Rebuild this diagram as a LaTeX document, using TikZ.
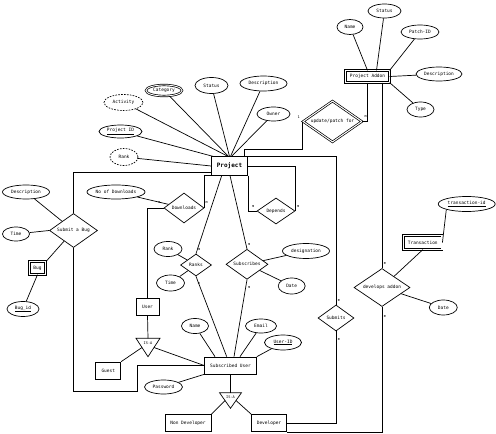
\documentclass[tikz,border=0pt]{standalone}
\usepackage{fontspec}
\setmainfont{DejaVu Sans Mono}
\usetikzlibrary{shapes.geometric,calc}
\tikzset{
  txt/.style={font=\fontsize{4.5}{5}\selectfont},
  sz/.style 2 args={minimum width=#1pt, minimum height=#2pt},
  ent/.style={draw, rectangle, inner sep=0pt, txt},
  weak/.style={ent, double, double distance=1.3pt},
  attr/.style={draw, ellipse, inner sep=0pt, txt},
  dashattr/.style={attr, dash pattern=on 1.6pt off 1.3pt},
  rel/.style={draw, diamond, inner sep=0pt, shape aspect=1.4, txt},
  card/.style={inner sep=0pt, font=\fontsize{3.6}{4}\selectfont},
  isalbl/.style={inner sep=0pt, font=\fontsize{3.6}{4}\selectfont},
}
\begin{document}
\begin{tikzpicture}[x=1pt, y=-1pt, line width=0.7pt]
\useasboundingbox (0,0) rectangle (496,434);

% ---------- Project and its attributes ----------
\node[ent, font=\fontsize{6}{7}\selectfont\bfseries, sz={36}{18.5}] (P) at (229.5,166) {Project};
\node[attr, double, double distance=0.9pt, sz={36}{11}] (cat) at (164,90.5) {Category};
\node[dashattr, sz={39}{16}] (act) at (123.5,102.5) {Activity};
\node[attr, sz={33}{16}] (st) at (211.5,85.5) {Status};
\node[attr, sz={47}{15}] (de) at (263.5,83.5) {Description};
\node[attr, sz={33}{14}] (ow) at (273.5,114) {Owner};
\node[attr, sz={43}{13}] (pid) at (120.5,131.5) {\underline{Project ID}};
\node[dashattr, sz={28}{17}] (rk) at (124,157) {Rank};
\draw (act) -- ([xshift=-1.5pt]P.north);
\draw (cat) -- ([xshift=-1pt]P.north);
\draw (st) -- (P.north);
\draw (de) -- ([xshift=1pt]P.north);
\draw (ow) -- ([xshift=2pt]P.north);
\draw (pid) -- ([xshift=2pt]P.north west);
\draw (rk) -- (P.west);

% ---------- Project Addon ----------
\node[weak, sz={43.6}{11.6}] (ad) at (367.5,76.5) {Project Addon};
\node[attr, sz={26}{15}] (an) at (350,27) {Name};
\node[attr, sz={33}{14}] (as) at (384.5,11) {Status};
\node[attr, sz={38}{14}] (pa) at (420,32) {Patch-ID};
\node[attr, sz={46}{14}] (ade) at (439,74) {Description};
\node[attr, sz={27}{15}] (ty) at (420.5,109.5) {Type};
\draw (an) -- (ad.north);
\draw (as) -- ([xshift=9pt]ad.north);
\draw (pa) -- (ad.north east);
\draw (ade) -- (ad.east);
\draw (ty) -- (ad.south east);

\node[rel, double, double distance=1pt, sz={59}{41}] (up) at (332.5,121.5) {update/patch for};
\draw (ad.south) |- (up.east);
\draw ([xshift=-4pt]P.north east) -- ++(0,-7.4) -| (up.west);
\node[card] (c1) at (298.7,116.7) {1};
\node[card] (c2) at (365.7,116.7) {m};

% ---------- Submit a Bug ----------
\node[rel, sz={48}{34}] (sb) at (73.5,230.5) {Submit a Bug};
\node[attr, sz={47}{14}] (bd) at (26,192) {Description};
\node[attr, sz={27}{14}] (bt) at (16,234) {Time};
\node[weak, sz={16.6}{12.6}] (bug) at (37.5,268) {Bug};
\node[attr, sz={32}{15}] (bid) at (23,309) {\underline{Bug\_id}};
\draw (bd) -- (sb);
\draw (bt) -- (sb.west);
\draw (sb) -- (bug.north east);
\draw (bug.south) -- (bid);
\draw ([yshift=-6.7pt]P.west) -| (sb.north);

% ---------- Downloads ----------
\node[rel, sz={40}{30}] (dl) at (184,208) {Downloads};
\node[attr, sz={58}{14}] (nod) at (116,192) {No of Downloads};
\node[ent, sz={23}{17}] (us) at (147.5,306.5) {User};
\draw (nod) -- (dl);
\draw (P.south west) -| (dl.east);
\draw (dl.west) -| (us.north);
\node[card] (c3) at (206.7,202.7) {m};
\node[card] (c4) at (159.3,202.7) {m};

% ---------- Depends ----------
\node[rel, sz={38}{26}] (dep) at (276,211) {Depends};
\draw (P.south east) |- (dep.west);
\draw (P.east) -| (dep.east);
\node[card] (c5) at (253.3,206.7) {m};
\node[card] (c6) at (298.3,206.7) {m};

% ---------- Subscribed User ----------
\node[ent, sz={52}{17}] (su) at (230.5,365.5) {Subscribed User};
\node[attr, sz={27}{15}] (sn) at (195,326) {Name};
\node[attr, sz={31}{14}] (em) at (261,326) {Email};
\node[attr, sz={37}{15}] (uid) at (283,342.5) {\underline{User-ID}};
\node[attr, sz={38}{14}] (pw) at (163.5,387) {Password};
\draw (sn) -- ([xshift=-15.5pt]su.north);
\draw (em) -- ([xshift=9.5pt]su.north);
\draw (uid) -- (su.north east);
\draw (pw) -- (su.south west);
\draw (sb.south) |- (137.3,391.7) |- (su.west);

% ---------- Ranks ----------
\node[rel, sz={31}{22}] (rn) at (196,265) {Ranks};
\node[attr, sz={28}{15}] (rr) at (168,249) {Rank};
\node[attr, sz={28}{16}] (rt) at (170.5,283) {Time};
\draw (rr) -- (rn);
\draw (rt) -- (rn);
\draw ([xshift=-7.8pt]P.south) -- (rn.north);
\draw (rn.south) -- ([xshift=-3.8pt]su.north);
\node[card] (c7) at (199.3,249.3) {m};
\node[card] (c8) at (199,283) {m};

% ---------- Subscribes ----------
\node[rel, sz={42}{30}] (sc) at (247,264.3) {Subscribes};
\node[attr, sz={47}{15}] (dg) at (306,251) {designation};
\node[attr, sz={27}{16}] (sd) at (291.7,286) {Date};
\draw (dg) -- (sc);
\draw (sd) -- (sc);
\draw ([xshift=0.5pt]P.south) -- (sc.north);
\draw (sc.south) -- ([xshift=3.5pt]su.north);
\node[card] (c9) at (249.3,244.3) {m};
\node[card] (c10) at (249.3,287.3) {m};

% ---------- IS-A (User) ----------
\coordinate (ia1) at (136,338.3);
\coordinate (ia2) at (160,338.3);
\coordinate (ia3) at (148,356.7);
\draw (ia1) -- (ia2) -- (ia3) -- cycle;
\node[isalbl] (isa1) at (148,343.3) {IS-A};
\node[ent, sz={25}{17}] (gu) at (108.3,370.5) {Guest};
\draw (us.south) -- ($(ia1)!0.5!(ia2)$);
\draw ($(ia2)!0.5!(ia3)$) -- (su.west);
\draw (gu.north east) -- ($(ia1)!0.5!(ia3)$);

% ---------- IS-A (Subscribed User) ----------
\coordinate (ib1) at (219.5,392.7);
\coordinate (ib2) at (241.5,392.7);
\coordinate (ib3) at (230.5,408.3);
\draw (ib1) -- (ib2) -- (ib3) -- cycle;
\node[isalbl] (isa2) at (230.5,397.3) {IS-A};
\node[ent, sz={46}{17}] (nd) at (188,423) {Non Developer};
\node[ent, sz={35}{17}] (dv) at (269,423) {Developer};
\draw (su.south) -- ($(ib1)!0.5!(ib2)$);
\draw (nd.north east) -- ($(ib1)!0.5!(ib3)$);
\draw (dv.north west) -- ($(ib2)!0.5!(ib3)$);

% ---------- Submits ----------
\node[rel, sz={36}{26}] (sm) at (336,318) {Submits};
\draw (P.north east) -| (sm.north);
\draw (sm.south) |- (dv.east);
\node[card] (c11) at (339,300) {m};
\node[card] (c12) at (339,339.3) {m};

% ---------- develops addon ----------
\node[rel, sz={56}{38}] (da) at (382,287.5) {develops addon};
\node[weak, sz={38.6}{13.6}] (tr) at (422.8,242.5) {Transaction};
\node[attr, sz={57}{15}] (tid) at (466.7,204) {\underline{transaction-id}};
\node[attr, sz={28}{15}] (dd) at (443.3,307.5) {Date};
\draw (ad.south -| da.north) -- (da.north);
\draw (da.south) |- (dv.south east);
\draw (tid.south west) -- (tr.east);
\draw (tr.south) -- (da);
\draw (dd) -- (da);
\node[card] (c13) at (385,263.3) {m};
\node[card] (c14) at (385,316) {m};
\end{tikzpicture}
\end{document}
